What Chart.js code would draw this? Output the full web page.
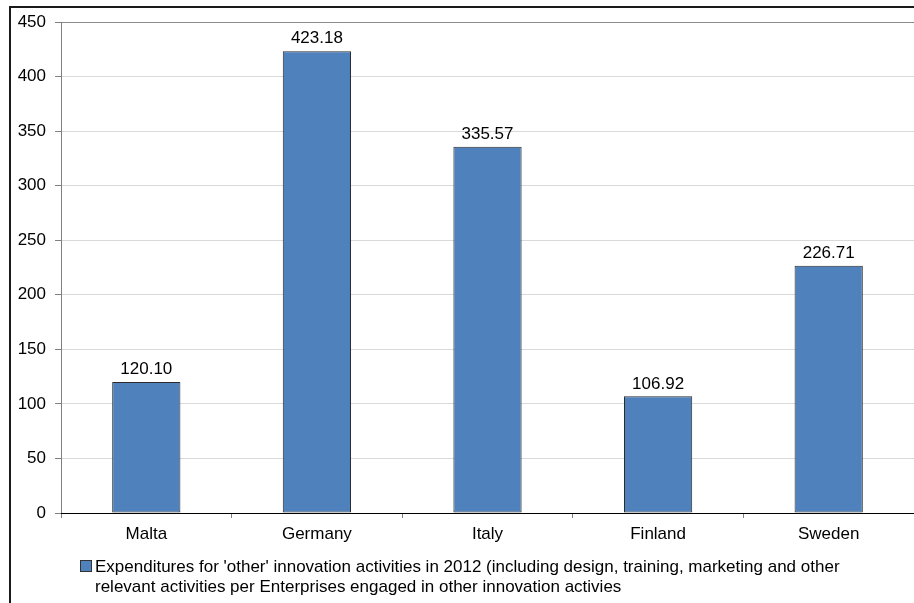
<!DOCTYPE html>
<html>
<head>
<meta charset="utf-8">
<script src="https://cdn.jsdelivr.net/npm/chart.js@4"></script>
<style>
  html, body { margin: 0; padding: 0; background: #fff; }
  #wrap { width: 914px; height: 603px; position: relative; }
</style>
</head>
<body>
<div id="wrap"><canvas id="myChart" width="914" height="603"></canvas></div>
<script>
const countries = ['Malta', 'Germany', 'Italy', 'Finland', 'Sweden'];
const expenditures = [120.10, 423.18, 335.57, 106.92, 226.71];
const seriesName = "Expenditures for 'other' innovation activities in 2012 (including design, training, marketing and other";
const seriesName2 = 'relevant activities per Enterprises engaged in other innovation activies';
const yTicks = [0, 50, 100, 150, 200, 250, 300, 350, 400, 450];

const FONT = 'Arial, "Liberation Sans", sans-serif';
const barBlue = '#4F81BD';

// frame around the chart, value labels above bars and the wrapped legend
const extras = {
    id: 'extras',
    afterDraw(chart) {
        const ctx = chart.ctx;
        ctx.save();
        ctx.strokeStyle = '#1a1a1a';
        ctx.lineWidth = 2;
        ctx.beginPath();
        ctx.moveTo(10, 603);
        ctx.lineTo(10, 7);
        ctx.lineTo(914, 7);
        ctx.stroke();

        ctx.font = '17px ' + FONT;
        ctx.fillStyle = '#000';
        ctx.textAlign = 'center';
        ctx.textBaseline = 'bottom';
        const meta = chart.getDatasetMeta(0);
        meta.data.forEach((bar, i) => {
            ctx.fillText(expenditures[i].toFixed(2), bar.x, bar.y - 4);
        });

        ctx.fillStyle = barBlue;
        ctx.fillRect(80, 560, 12, 12);
        ctx.strokeStyle = '#333';
        ctx.lineWidth = 1;
        ctx.strokeRect(80.5, 560.5, 11, 11);
        ctx.fillStyle = '#000';
        ctx.textAlign = 'left';
        ctx.textBaseline = 'middle';
        ctx.fillText(seriesName, 95, 567);
        ctx.fillText(seriesName2, 95, 587);
        ctx.restore();
    }
};

const ctx = document.getElementById('myChart');

new Chart(ctx, {
    type: 'bar',
    data: {
        labels: countries,
        datasets: [{
            label: seriesName,
            data: expenditures,
            backgroundColor: barBlue,
            borderColor: '#2b2b2b',
            borderWidth: 1,
            borderSkipped: false,
            categoryPercentage: 0.4,
            barPercentage: 1
        }]
    },
    options: {
        responsive: false,
        animation: false,
        layout: {
            padding: { top: 22, right: 0, left: 0, bottom: 0 }
        },
        plugins: {
            legend: { display: false },
            tooltip: { enabled: false }
        },
        scales: {
            y: {
                min: 0,
                max: 450,
                afterFit(scale) { scale.width = 61; },
                afterBuildTicks(scale) { scale.ticks = yTicks.map(v => ({ value: v })); },
                ticks: {
                    padding: 9,
                    color: '#000',
                    font: { family: FONT, size: 17 }
                },
                grid: {
                    color: ctx => ctx.tick && ctx.tick.value === 450 ? '#8c8c8c' : '#d9d9d9',
                    tickColor: '#808080',
                    tickLength: 6,
                    lineWidth: 1
                },
                border: { color: '#808080', width: 1 }
            },
            x: {
                afterFit(scale) { scale.height = 90; },
                ticks: {
                    padding: 6,
                    color: '#000',
                    font: { family: FONT, size: 17 }
                },
                grid: {
                    offset: true,
                    drawOnChartArea: false,
                    tickColor: '#808080',
                    tickLength: 5
                },
                border: { color: '#000', width: 1 }
            }
        }
    },
    plugins: [extras]
});
</script>
</body>
</html>
